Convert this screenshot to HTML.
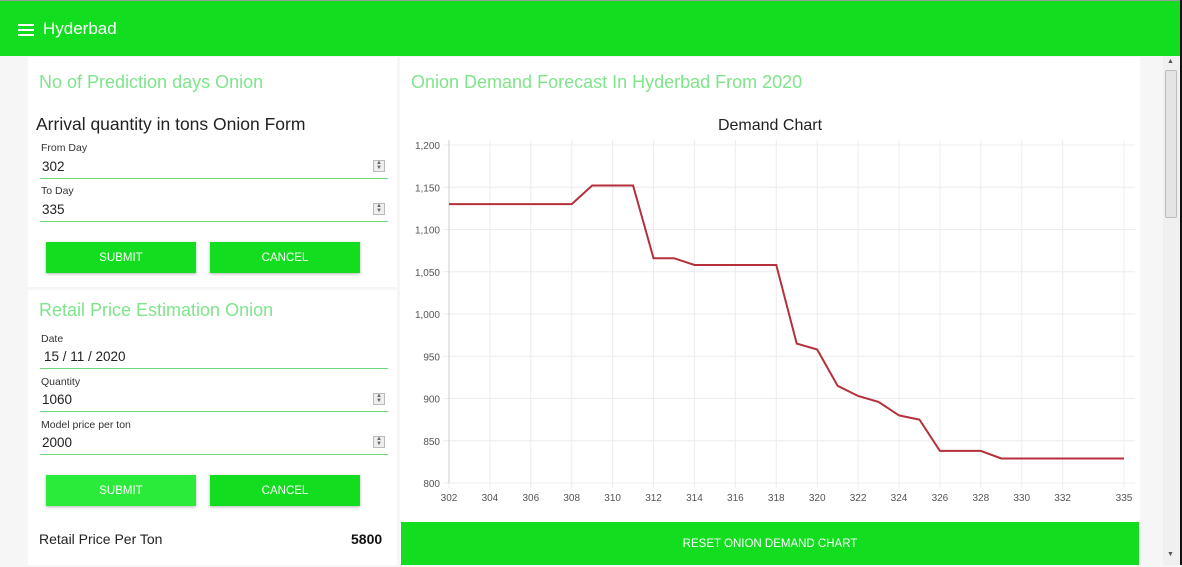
<!DOCTYPE html>
<html><head><meta charset="utf-8">
<style>
*{box-sizing:border-box;margin:0;padding:0}
body{width:1182px;height:565px;overflow:hidden;background:#f6f6f6;font-family:"Liberation Sans",sans-serif;position:relative}
.hdr{position:absolute;left:0;top:0;width:1180px;height:56px;background:#12dd1e;border-top:1px solid #9a9a9a}
.hdr .t{position:absolute;left:43px;top:18px;color:#fff;font-size:17px}
.burger{position:absolute;left:18px;top:23px;width:16px}
.burger i{display:block;height:2px;background:#fff;margin-bottom:3px}
.card{position:absolute;background:#fff}
.ttl{position:absolute;color:#7ee58a;font-size:18px}
.lbl{position:absolute;font-size:10.5px;color:#333}
.val{position:absolute;font-size:13.5px;color:#222}
.line{position:absolute;height:1px;background:#6fd87a;left:40px;width:348px}
.spin{position:absolute;left:373px;width:12px;height:12px;border:1px solid #bbb;background:#eee;font-size:6px;color:#666;text-align:center;line-height:5px}
.btn{position:absolute;height:31px;background:#12dd1e;color:#fff;font-size:11.5px;text-align:center;line-height:33px;box-shadow:0 1px 3px rgba(0,0,0,.3)}
.sb{position:absolute;left:1163px;top:56px;width:17px;height:509px;background:#f0f0f0}
</style></head><body>
<div class="hdr">
 <div class="burger"><i></i><i></i><i></i></div>
 <div class="t">Hyderbad</div>
</div>
<div style="position:absolute;left:1180px;top:0;width:2px;height:565px;background:#111"></div>
<div class="card" style="left:28px;top:57px;width:369px;height:230px"></div>
<div class="card" style="left:28px;top:290px;width:369px;height:275px"></div>
<div class="ttl" style="left:39px;top:72px">No of Prediction days Onion</div>
<div style="position:absolute;left:36px;top:114px;font-size:17.5px;color:#222">Arrival quantity in tons Onion Form</div>
<div class="lbl" style="left:41px;top:142px">From Day</div>
<div class="val" style="left:42px;top:159px">302</div>
<div class="spin" style="top:160px">▲<br>▼</div>
<div class="line" style="top:178px"></div>
<div class="lbl" style="left:41px;top:185px">To Day</div>
<div class="val" style="left:42px;top:202px">335</div>
<div class="spin" style="top:203px">▲<br>▼</div>
<div class="line" style="top:221px"></div>
<div class="btn" style="left:46px;top:242px;width:150px">SUBMIT</div>
<div class="btn" style="left:210px;top:242px;width:150px">CANCEL</div>
<div class="ttl" style="left:39px;top:300px">Retail Price Estimation Onion</div>
<div class="lbl" style="left:41px;top:333px">Date</div>
<div class="val" style="left:44px;top:349px">15 / 11 / 2020</div>
<div class="line" style="top:368px"></div>
<div class="lbl" style="left:41px;top:376px">Quantity</div>
<div class="val" style="left:42px;top:392px">1060</div>
<div class="spin" style="top:393px">▲<br>▼</div>
<div class="line" style="top:411px"></div>
<div class="lbl" style="left:41px;top:419px">Model price per ton</div>
<div class="val" style="left:42px;top:435px">2000</div>
<div class="spin" style="top:436px">▲<br>▼</div>
<div class="line" style="top:454px"></div>
<div class="btn" style="left:46px;top:475px;width:150px;background:#2aeb3a">SUBMIT</div>
<div class="btn" style="left:210px;top:475px;width:150px">CANCEL</div>
<div style="position:absolute;left:39px;top:531px;font-size:14px;color:#222">Retail Price Per Ton</div>
<div style="position:absolute;left:351px;top:531px;font-size:14px;font-weight:bold;color:#111">5800</div>

<div class="card" style="left:400px;top:57px;width:740px;height:508px"></div>
<div class="ttl" style="left:411px;top:72px">Onion Demand Forecast In Hyderbad From 2020</div>
<svg id="chart" style="position:absolute;left:0;top:0" width="1182" height="565"></svg>
<div class="btn" style="left:401px;top:522px;width:738px;height:43px;line-height:45px;box-shadow:none">RESET ONION DEMAND CHART</div>
<div class="sb">
 <div style="position:absolute;left:2px;top:14px;width:12px;height:148px;background:#e4e4e4;border:1px solid #bbb;border-radius:2px"></div>
 <div style="position:absolute;left:4px;top:2px;font-size:7px;color:#555">▲</div>
 <div style="position:absolute;left:4px;top:495px;font-size:7px;color:#555">▼</div>
</div>
<script>
const days=[302,303,304,305,306,307,308,309,310,311,312,313,314,315,316,317,318,319,320,321,322,323,324,325,326,327,328,329,330,331,332,333,334,335];
const demand=[1130,1130,1130,1130,1130,1130,1130,1152,1152,1152,1066,1066,1058,1058,1058,1058,1058,965,958,915,903,896,880,875,838,838,838,829,829,829,829,829,829,829];
const xTicks=[302,304,306,308,310,312,314,316,318,320,322,324,326,328,330,332,335];
const yTicks=[800,850,900,950,1000,1050,1100,1150,1200];
const NS='http://www.w3.org/2000/svg';
const svg=document.getElementById('chart');
const X0=449,X1=1124,Y0=483,Y1=145;
const xs=v=>X0+(v-302)/(335-302)*(X1-X0);
const ys=v=>Y0-(v-800)/(1200-800)*(Y0-Y1);
function mk(t,a){const e=document.createElementNS(NS,t);for(const k in a)e.setAttribute(k,a[k]);svg.appendChild(e);return e;}
const title=mk('text',{x:770,y:130,'text-anchor':'middle','font-size':16,fill:'#222','font-family':'Liberation Sans'});
title.textContent='Demand Chart';


yTicks.forEach(v=>{
 const g=mk('line',{x1:443,x2:1135,y1:ys(v),y2:ys(v),stroke:'#ececec'});
 
 
 const t=mk('text',{x:440,y:ys(v)+4,'text-anchor':'end','font-size':10,fill:'#555','font-family':'Liberation Sans'});
 t.textContent=v.toLocaleString('en-US');
 
 
});
xTicks.forEach(v=>{
 const g=mk('line',{x1:xs(v),x2:xs(v),y1:Y1-5,y2:Y0+5,stroke:'#ececec'});
 
 
 const t=mk('text',{x:xs(v),y:Y0+18,'text-anchor':'middle','font-size':10,fill:'#555','font-family':'Liberation Sans'});
 t.textContent=v;
 
 
});
const ax=mk('line',{x1:X0,x2:X0,y1:Y1-5,y2:Y0,stroke:'#ccc'});


const p=mk('polyline',{points:days.map((d,i)=>xs(d)+','+ys(demand[i])).join(' '),fill:'none',stroke:'#b5303a','stroke-width':2});


</script>
</body></html>
